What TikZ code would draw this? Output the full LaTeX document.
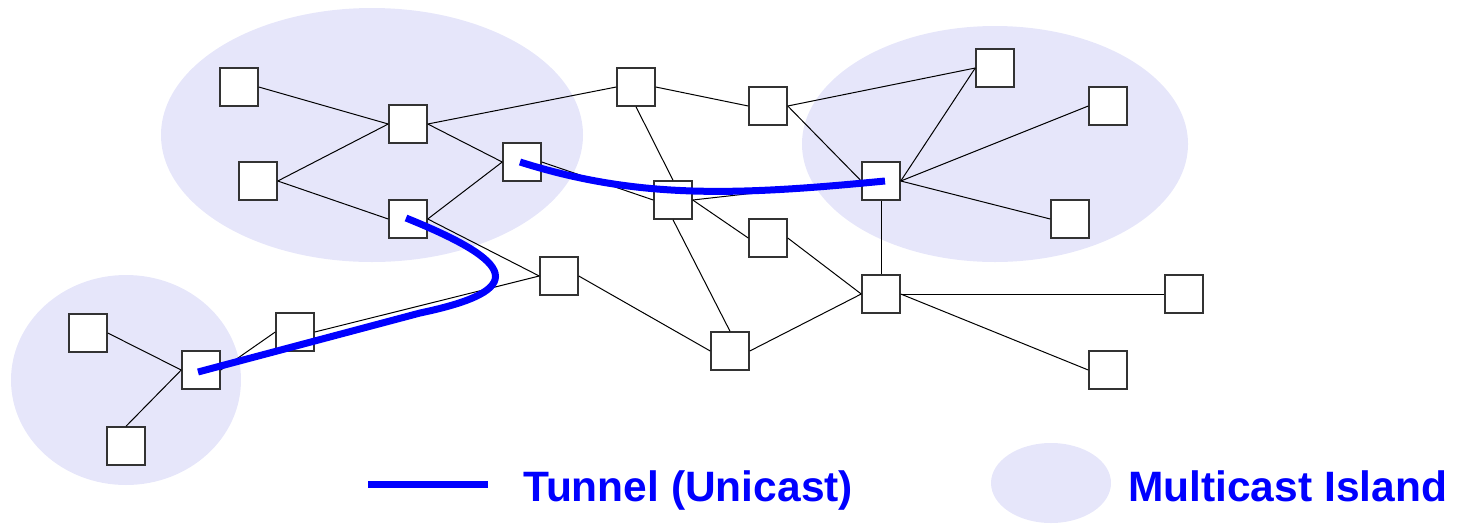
\documentclass[tikz,border=0pt]{standalone}
\usepackage{fontspec}
\setmainfont{Liberation Sans}
\definecolor{island}{RGB}{230,230,250}
\definecolor{tunnelblue}{RGB}{0,0,255}
\tikzset{
  router/.style={draw=black!80, line width=1.5pt, fill=white, minimum size=38pt, inner sep=0pt},
  link/.style={black, line width=1pt},
  tunnel/.style={tunnelblue, line width=7pt},
  islandfill/.style={fill=island, draw=none},
  legendtext/.style={text=tunnelblue, font=\bfseries\fontsize{42.5}{46}\selectfont, anchor=base west, inner sep=0pt}
}
\begin{document}
\begin{tikzpicture}[x=1pt, y=-1pt]
\useasboundingbox (0,0) rectangle (1458,523);

% multicast islands
\fill[islandfill] (372,135) ellipse [x radius=211, y radius=127];
\fill[islandfill] (995,144) ellipse [x radius=193, y radius=118];
\fill[islandfill] (126,380) ellipse [x radius=115, y radius=105];

% routers
\node[router] (r1) at (239,87) {};
\node[router] (r2) at (408,124) {};
\node[router] (r3) at (258,181) {};
\node[router] (r4) at (408,219) {};
\node[router] (r5) at (522,162) {};
\node[router] (r6) at (636,87) {};
\node[router] (r7) at (768,106) {};
\node[router] (r8) at (673,200) {};
\node[router] (r9) at (768,238) {};
\node[router] (r10) at (559,276) {};
\node[router] (r11) at (295,332) {};
\node[router] (r12) at (88,333) {};
\node[router] (r13) at (201,370) {};
\node[router] (r14) at (126,446) {};
\node[router] (r15) at (730,351) {};
\node[router] (r16) at (881,181) {};
\node[router] (r17) at (995,68) {};
\node[router] (r18) at (1108,106) {};
\node[router] (r19) at (1070,219) {};
\node[router] (r20) at (881,294) {};
\node[router] (r21) at (1184,294) {};
\node[router] (r22) at (1108,370) {};

% links, attached to the side midpoints of the routers
\foreach \a/\b in {r1.east/r2.west, r3.east/r2.west, r3.east/r4.west,
                   r2.east/r5.west, r2.east/r6.west, r4.east/r5.west,
                   r4.east/r10.west, r11.east/r10.west, r11.west/r13.east,
                   r12.east/r13.west, r13.west/r14.north,
                   r6.east/r7.west, r6.south/r8.north, r5.east/r8.west,
                   r7.east/r17.west, r7.east/r16.west, r16.east/r17.west,
                   r16.east/r18.west, r16.east/r19.west, r16.south/r20.north,
                   r8.east/r16.west, r8.east/r9.west, r8.south/r15.north,
                   r9.east/r20.west, r15.east/r20.west, r10.east/r15.west,
                   r20.east/r21.west, r20.east/r22.west}
  \draw[link] (\a) -- (\b);

% unicast tunnels between islands
\draw[tunnel] (520,162) .. controls (640,200) and (740,195) .. (885,181);
\draw[tunnel] (406,218) .. controls (515,262) and (530,290) .. (420,313) -- (198,372);

% legend
\coordinate (legA) at (368,484);
\coordinate (legB) at (488,484);
\draw[tunnel] (legA) -- (legB);
\node[legendtext] (legtunnel) at (523,501) {Tunnel (Unicast)};
\fill[islandfill] (1051,483) ellipse [x radius=60, y radius=40];
\node[legendtext] (legisland) at (1128,501) {Multicast Island};
\end{tikzpicture}
\end{document}
